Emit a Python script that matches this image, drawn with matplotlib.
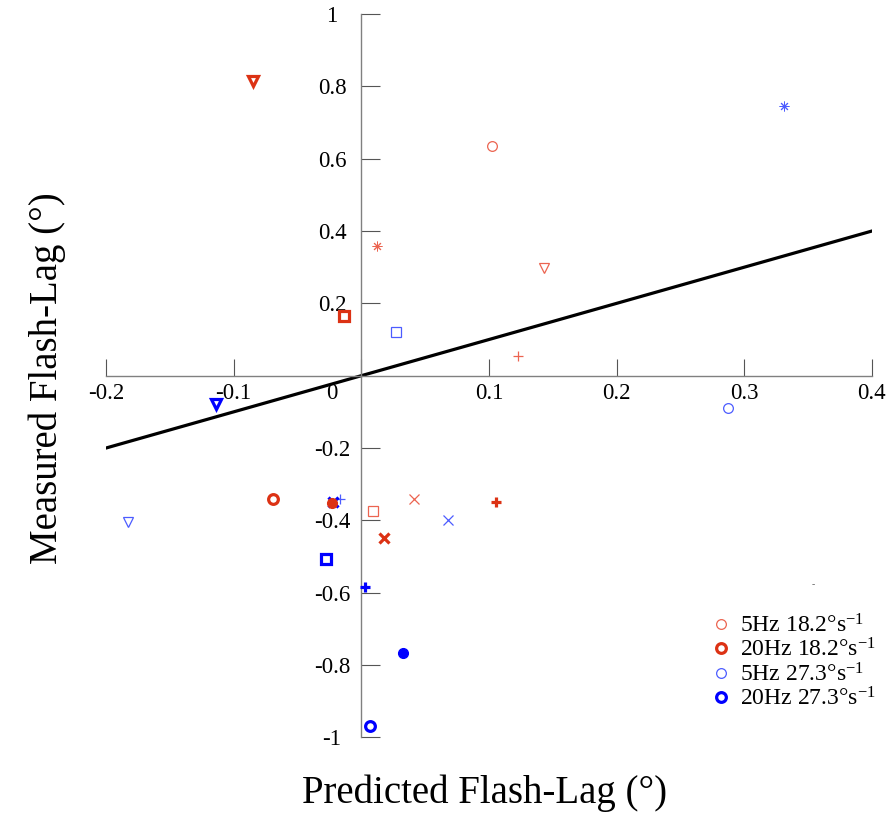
import matplotlib
matplotlib.use("Agg")
import matplotlib.pyplot as plt

plt.rcParams["font.family"] = ["Liberation Serif", "DejaVu Serif"]
plt.rcParams["mathtext.fontset"] = "custom"
plt.rcParams["mathtext.rm"] = "Liberation Serif"
plt.rcParams["mathtext.it"] = "Liberation Serif:italic"

# -------------------------------------------------
# data (predicted vs measured flash-lag, degrees)
# -------------------------------------------------
cond_labels = ["5Hz 18.2°s$^{-1}$", "20Hz 18.2°s$^{-1}$",
               "5Hz 27.3°s$^{-1}$", "20Hz 27.3°s$^{-1}$"]

x_5hz_18 = [0.102, 0.0125, 0.1435, 0.123, 0.0416, 0.0089]
y_5hz_18 = [0.635, 0.358, 0.298, 0.054, -0.342, -0.374]
m_5hz_18 = ["o", "*", "v", "+", "x", "s"]

x_20hz_18 = [-0.0688, -0.0847, -0.0133, 0.018, 0.1056, -0.023]
y_20hz_18 = [-0.341, 0.815, 0.165, -0.450, -0.348, -0.351]
m_20hz_18 = ["o", "v", "s", "x", "+", "."]

x_5hz_27 = [0.2876, 0.331, 0.0275, 0.0677, -0.1825, -0.017]
y_5hz_27 = [-0.090, 0.746, 0.122, -0.399, -0.404, -0.342]
m_5hz_27 = ["o", "*", "s", "x", "v", "+"]

x_20hz_27 = [0.0071, -0.114, -0.0277, 0.0029, 0.0324, -0.022]
y_20hz_27 = [-0.968, -0.0795, -0.507, -0.585, -0.768, -0.350]
m_20hz_27 = ["o", "v", "s", "+", ".", "x"]

line_x = [-0.2, 0.4]   # identity line y = x
line_y = [-0.2, 0.4]

x_ticks = [-0.2, -0.1, 0, 0.1, 0.2, 0.3, 0.4]
x_ticklabels = ["-0.2", "-0.1", "", "0.1", "0.2", "0.3", "0.4"]
y_ticks = [-1, -0.8, -0.6, -0.4, -0.2, 0.2, 0.4, 0.6, 0.8, 1]
y_ticklabels = ["-1", "-0.8", "-0.6", "-0.4", "-0.2", "0.2", "0.4", "0.6", "0.8", "1"]

# -------------------------------------------------
# figure
# -------------------------------------------------
fig = plt.figure(figsize=(8.89, 8.14), dpi=100)
ax = fig.add_axes([0.1192, 0.0941, 0.8616, 0.8887])

ax.plot(line_x, line_y, color="black", lw=2.3, zorder=2)

MARKER_MAP = {"*": (8, 2, 0), ".": "o"}

def draw_group(xs, ys, ms, color, mew, z):
    handle = None
    for x, y, m in zip(xs, ys, ms):
        filled = (m == ".")
        h, = ax.plot([x], [y], linestyle="none",
                     marker=MARKER_MAP.get(m, m), markersize=7,
                     markeredgewidth=(1.0 if filled else (0.7 if m == "*" else mew)),
                     markeredgecolor=color,
                     markerfacecolor=(color if filled else "none"),
                     zorder=z)
        if m == "o" and handle is None:
            handle = h
    return handle

red_thin = "#EC6450"
red_bold = "#DC3214"
blue_thin = "#4C5CFF"
blue_bold = "#0000FF"

h3 = draw_group(x_5hz_27, y_5hz_27, m_5hz_27, blue_thin, 0.9, 3)
h4 = draw_group(x_20hz_27, y_20hz_27, m_20hz_27, blue_bold, 2.3, 3)
h1 = draw_group(x_5hz_18, y_5hz_18, m_5hz_18, red_thin, 0.9, 4)
h2 = draw_group(x_20hz_18, y_20hz_18, m_20hz_18, red_bold, 2.3, 4)

ax.set_xlim(-0.2, 0.4)
ax.set_ylim(-1, 1)

for side in ["top", "right"]:
    ax.spines[side].set_visible(False)
ax.spines["left"].set_position(("data", 0))
ax.spines["bottom"].set_position(("data", 0))
for side in ["left", "bottom"]:
    ax.spines[side].set_color("#808080")
    ax.spines[side].set_linewidth(1.0)

ax.set_xticks(x_ticks)
ax.set_xticklabels(x_ticklabels)
ax.set_yticks(y_ticks)
ax.set_yticklabels(y_ticklabels, ha="center")
ax.tick_params(axis="x", direction="in", length=12.5, width=0.8,
               color="#555555", pad=5, labelsize=16.5)
ax.tick_params(axis="y", direction="in", length=13.5, width=0.8,
               color="#555555", pad=21, labelsize=16.5)

# "0" of the x axis sits left of the vertical axis
ax.annotate("0", xy=(0, 0), xytext=(-21, -5), textcoords="offset points",
            ha="center", va="top", fontsize=16.5)

fig.text(0.5456, 0.026, "Predicted Flash-Lag (°)", ha="center", va="center",
         fontsize=28)
fig.text(0.053, 0.5356, "Measured Flash-Lag (°)", ha="center", va="center",
         rotation=90, fontsize=28)

fig.legend([h1, h2, h3, h4], cond_labels, loc="upper left",
           bbox_to_anchor=(0.7987, 0.2455), frameon=False, fontsize=17,
           handlelength=0.9, handletextpad=0.35, labelspacing=0.05,
           borderaxespad=0, borderpad=0)

fig.text(813 / 889, 1 - 585 / 814, "-", fontsize=7, color="#666666",
         ha="center", va="center")

fig.savefig("out.png", dpi=100)
